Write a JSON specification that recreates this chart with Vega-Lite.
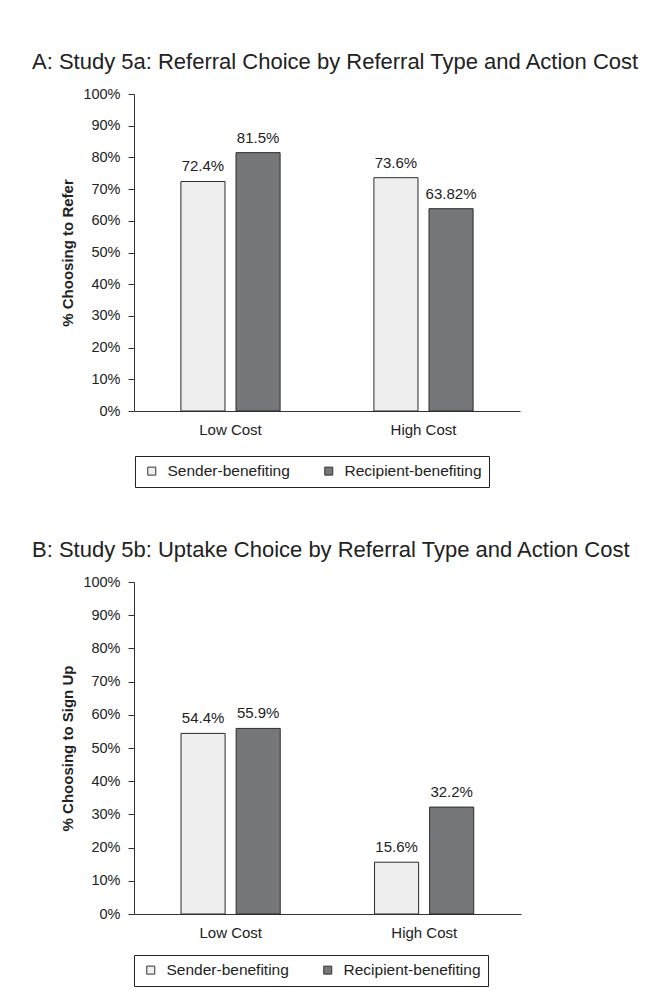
{
  "$schema": "https://vega.github.io/schema/vega-lite/v6.json",
  "background": "white",
  "padding": {"left": 32, "top": 51, "right": 10, "bottom": 5},
  "spacing": 51,
  "resolve": {"legend": {"fill": "independent"}, "scale": {"fill": "independent"}},
  "config": {
    "font": "Liberation Sans",
    "view": {"stroke": null},
    "axis": {
      "domainColor": "#333333",
      "domainWidth": 1,
      "tickColor": "#333333",
      "labelColor": "#222222",
      "labelFontSize": 14.5,
      "labelFont": "Liberation Sans",
      "titleColor": "#222222",
      "titleFont": "Liberation Sans",
      "grid": false
    },
    "legend": {
      "orient": "none",
      "direction": "horizontal",
      "columns": 2,
      "strokeColor": "#222222",
      "padding": 7,
      "symbolType": "square",
      "symbolSize": 64,
      "symbolStrokeColor": "#333333",
      "symbolStrokeWidth": 1,
      "labelFontSize": 15.5,
      "labelColor": "#222222",
      "labelFont": "Liberation Sans",
      "labelOffset": 8,
      "columnPadding": 29,
      "symbolOffset": 2,
      "title": null
    },
    "title": {
      "font": "Liberation Sans",
      "fontSize": 22,
      "fontWeight": "normal",
      "color": "#222222",
      "anchor": "start",
      "frame": "group"
    }
  },
  "datasets": {
    "study5a": [
      {"cost": "Low Cost", "type": "Sender-benefiting", "pct": 72.4},
      {"cost": "Low Cost", "type": "Recipient-benefiting", "pct": 81.5},
      {"cost": "High Cost", "type": "Sender-benefiting", "pct": 73.6},
      {"cost": "High Cost", "type": "Recipient-benefiting", "pct": 63.82}
    ],
    "study5b": [
      {"cost": "Low Cost", "type": "Sender-benefiting", "pct": 54.4},
      {"cost": "Low Cost", "type": "Recipient-benefiting", "pct": 55.9},
      {"cost": "High Cost", "type": "Sender-benefiting", "pct": 15.6},
      {"cost": "High Cost", "type": "Recipient-benefiting", "pct": 32.2}
    ]
  },
  "vconcat": [
    {
      "title": {"text": "A: Study 5a: Referral Choice by Referral Type and Action Cost", "dx": -102, "offset": 12},
      "width": 386,
      "height": 317,
      "data": {"name": "study5a"},
      "transform": [{"calculate": "datum.pct + '%'", "as": "label"}],
      "encoding": {
        "x": {
          "field": "cost", "type": "nominal", "sort": ["Low Cost", "High Cost"],
          "scale": {"paddingInner": 0.486, "paddingOuter": 0.243},
          "axis": {"title": null, "labelAngle": 0, "ticks": false, "labelPadding": 11, "labelFontSize": 15}
        },
        "xOffset": {
          "field": "type", "type": "nominal", "sort": ["Sender-benefiting", "Recipient-benefiting"],
          "scale": {"paddingInner": 0.2, "paddingOuter": 0}
        },
        "y": {
          "field": "pct", "type": "quantitative",
          "scale": {"domain": [0, 100], "nice": false},
          "axis": {
            "title": "% Choosing to Refer", "titleFontSize": 15, "titleFontWeight": "bold", "titlePadding": 7,
            "values": [0, 10, 20, 30, 40, 50, 60, 70, 80, 90, 100],
            "labelExpr": "datum.value + '%'", "tickSize": 6, "labelPadding": 8
          }
        }
      },
      "layer": [
        {
          "mark": {"type": "bar", "stroke": "#2b2b2b", "strokeWidth": 1},
          "encoding": {
            "fill": {
              "field": "type", "type": "nominal",
              "sort": ["Sender-benefiting", "Recipient-benefiting"],
              "scale": {"domain": ["Sender-benefiting", "Recipient-benefiting"], "range": ["#eeeeee", "#76777a"]},
              "legend": {"legendX": 1, "legendY": 362}
            }
          }
        },
        {
          "mark": {"type": "text", "baseline": "alphabetic", "dy": -10, "fontSize": 15, "color": "#222222"},
          "encoding": {"text": {"field": "label"}}
        }
      ]
    },
    {
      "title": {"text": "B: Study 5b: Uptake Choice by Referral Type and Action Cost", "dx": -102, "offset": 12},
      "width": 387,
      "height": 332,
      "data": {"name": "study5b"},
      "transform": [{"calculate": "datum.pct + '%'", "as": "label"}],
      "encoding": {
        "x": {
          "field": "cost", "type": "nominal", "sort": ["Low Cost", "High Cost"],
          "scale": {"paddingInner": 0.486, "paddingOuter": 0.243},
          "axis": {"title": null, "labelAngle": 0, "ticks": false, "labelPadding": 11, "labelFontSize": 15}
        },
        "xOffset": {
          "field": "type", "type": "nominal", "sort": ["Sender-benefiting", "Recipient-benefiting"],
          "scale": {"paddingInner": 0.2, "paddingOuter": 0}
        },
        "y": {
          "field": "pct", "type": "quantitative",
          "scale": {"domain": [0, 100], "nice": false},
          "axis": {
            "title": "% Choosing to Sign Up", "titleFontSize": 15, "titleFontWeight": "bold", "titlePadding": 7,
            "values": [0, 10, 20, 30, 40, 50, 60, 70, 80, 90, 100],
            "labelExpr": "datum.value + '%'", "tickSize": 6, "labelPadding": 8
          }
        }
      },
      "layer": [
        {
          "mark": {"type": "bar", "stroke": "#2b2b2b", "strokeWidth": 1},
          "encoding": {
            "fill": {
              "field": "type", "type": "nominal",
              "sort": ["Sender-benefiting", "Recipient-benefiting"],
              "scale": {"domain": ["Sender-benefiting", "Recipient-benefiting"], "range": ["#eeeeee", "#76777a"]},
              "legend": {"legendX": 0, "legendY": 373}
            }
          }
        },
        {
          "mark": {"type": "text", "baseline": "alphabetic", "dy": -10, "fontSize": 15, "color": "#222222"},
          "encoding": {"text": {"field": "label"}}
        }
      ]
    }
  ]
}
